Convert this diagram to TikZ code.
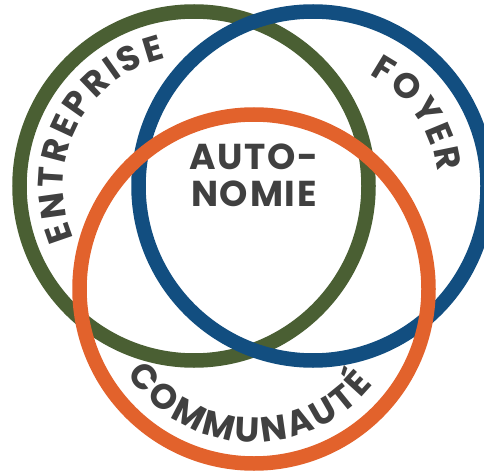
\documentclass[tikz,border=0pt]{standalone}
\usepackage{fontspec}
\newfontfamily\labelfont{Poppins}[LetterSpace=5]
\newfontfamily\ringfont{Poppins}
\newcommand\arcfont{\ringfont\bfseries\fontsize{35}{35}\selectfont}
\usetikzlibrary{decorations.text}
\definecolor{ringgreen}{HTML}{4A5F33}
\definecolor{ringblue}{HTML}{124E80}
\definecolor{ringorange}{HTML}{E2622C}
\definecolor{labelgray}{HTML}{404040}

\begin{document}
\begin{tikzpicture}[x=1pt,y=1pt]
		\tikzset{ring/.style = {shape=circle,draw=#1,line width=14.5pt,minimum size=349pt,inner sep=0pt}}
		\tikzset{arclabel/.style = {decorate,font=\arcfont,decoration={text effects along path,text={#1},text align=center,
				text effects/.cd,text along path,
				characters={text=labelgray,font=\arcfont,inner xsep=1.5pt},
				character widths={font=\arcfont,inner xsep=1.5pt}}}}
		\useasboundingbox (0,0) rectangle (484,472);
			% the three rings
			\node[ring=ringgreen] (entreprise) at (194,286) {};
			\node[ring=ringblue] (foyer) at (313,286) {};
			\node[ring=ringorange] (communaute) at (254,183) {};
			\node[text=labelgray,font=\labelfont\bfseries\fontsize{36}{37}\selectfont,align=center] (autonomie) at (254,297) {AUTO-\\NOMIE};
			% curved labels
			\path[arclabel=ENTREPRISE] (entreprise.center) ++(233:131pt) arc[start angle=233,end angle=73,radius=131pt];
			\path[arclabel=FOYER] (foyer.center) ++(104.7:125pt) arc[start angle=104.7,end angle=-35.3,radius=125pt];
			\path[arclabel=COMMUNAUTÉ] (communaute.center) ++(187.6:153pt) arc[start angle=187.6,end angle=347.6,radius=153pt];
		\end{tikzpicture}
\end{document}
